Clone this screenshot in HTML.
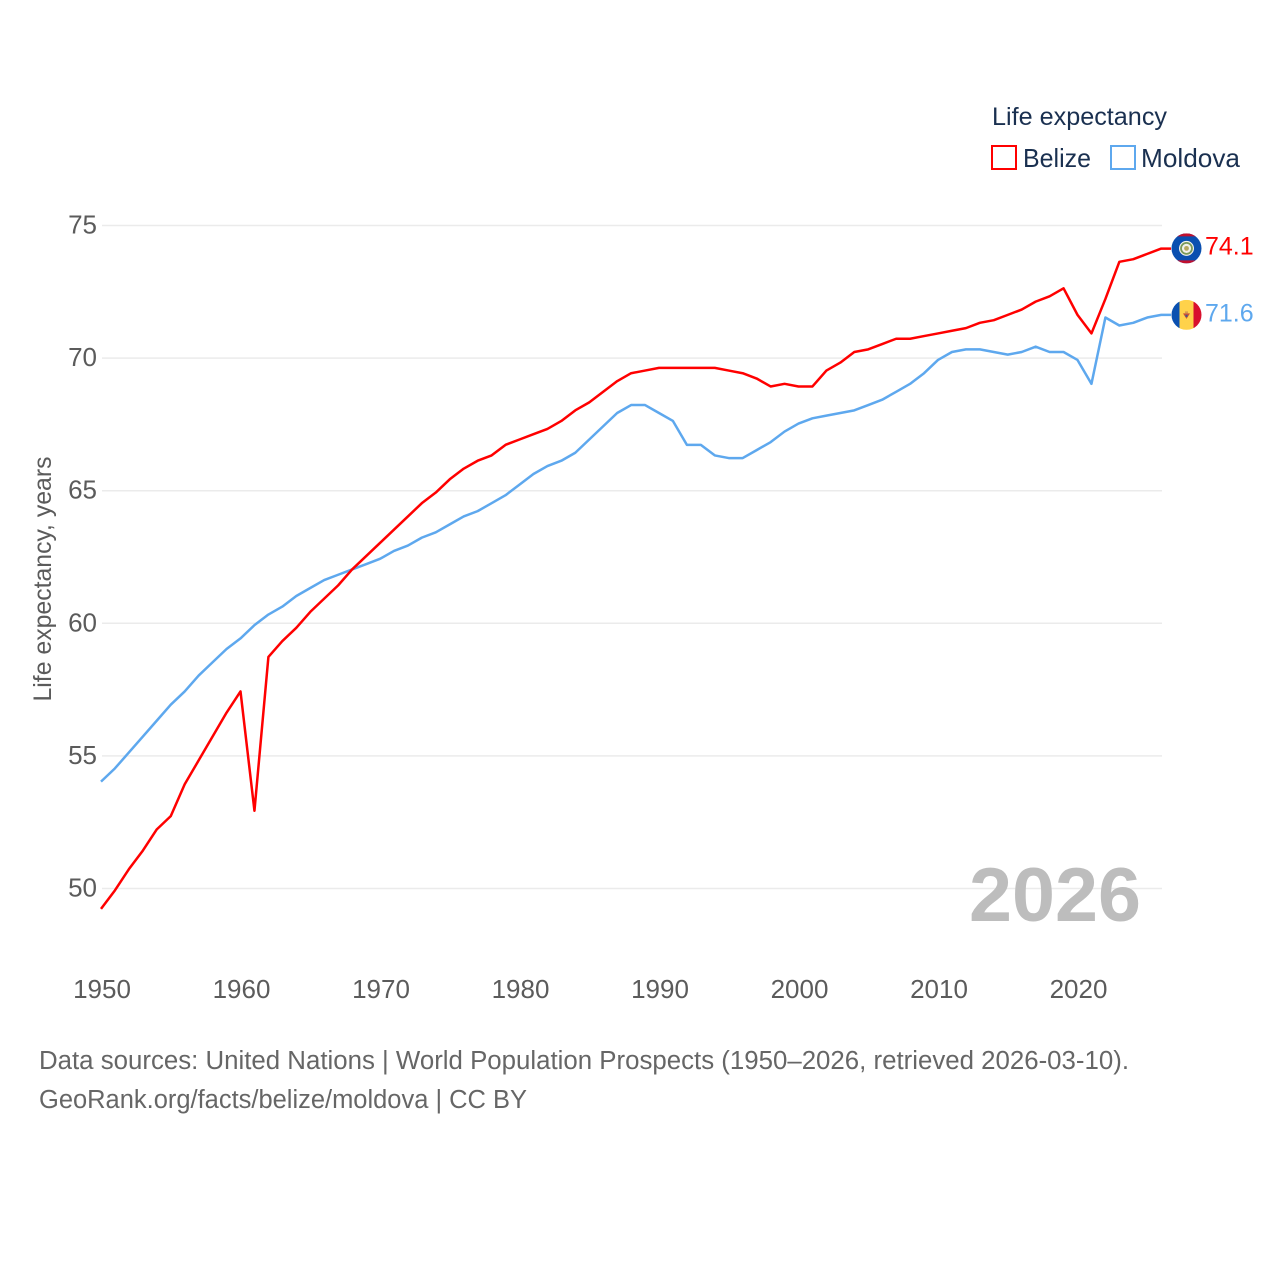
<!DOCTYPE html>
<html lang="en">
<head>
<meta charset="utf-8">
<title>Life expectancy: Belize and Moldova</title>
<style>
  html, body { margin: 0; padding: 0; background: #fff; }
  #chart { display: block; width: 1280px; height: 1280px; }
  text { font-family: "Liberation Sans", "DejaVu Sans", sans-serif; }
</style>
</head>
<body>
<svg id="chart" xmlns="http://www.w3.org/2000/svg" width="1280" height="1280" viewBox="0 0 1280 1280">
  <defs>
    <clipPath id="belize-clip"><circle cx="0" cy="0" r="15"></circle></clipPath>
    <clipPath id="moldova-clip"><circle cx="0" cy="0" r="15"></circle></clipPath>
  </defs>
  <rect x="0" y="0" width="1280" height="1280" fill="#ffffff"></rect>

  <g id="grid"></g>
  <g id="y-ticks"></g>
  <g id="x-ticks"></g>

  <text transform="translate(51 579) rotate(-90)" text-anchor="middle" font-size="25" fill="#5b5b5b" textLength="245" lengthAdjust="spacingAndGlyphs">Life expectancy, years</text>

  <text x="969" y="921" font-size="76" font-weight="700" fill="#bdbdbd" textLength="172" lengthAdjust="spacingAndGlyphs">2026</text>

  <g id="series" transform="translate(-1 -0.8)"></g>

  <g>
    <text x="992" y="125" font-size="25" fill="#1a3050" textLength="175" lengthAdjust="spacingAndGlyphs">Life expectancy</text>
    <rect x="992" y="146" width="24" height="23" fill="none" stroke="#ff0000" stroke-width="2"></rect>
    <text x="1023" y="167" font-size="26" fill="#1a3050" textLength="68" lengthAdjust="spacingAndGlyphs">Belize</text>
    <rect x="1111" y="146" width="24" height="23" fill="none" stroke="#5ea8ee" stroke-width="2"></rect>
    <text x="1141" y="167" font-size="26" fill="#1a3050" textLength="99" lengthAdjust="spacingAndGlyphs">Moldova</text>
  </g>

  <g id="flag-belize">
    <g clip-path="url(#belize-clip)">
      <rect x="-15" y="-15" width="30" height="30" fill="#0a4fb0"></rect>
      <rect x="-15" y="-15" width="30" height="3" fill="#c2102e"></rect>
      <rect x="-15" y="12" width="30" height="3" fill="#c2102e"></rect>
      <circle cx="0" cy="0" r="7.5" fill="#f2f2ec"></circle>
      <circle cx="0" cy="0" r="5.5" fill="none" stroke="#7a9a5a" stroke-width="1.8"></circle>
      <circle cx="0" cy="0" r="2.4" fill="#b8a860"></circle>
    </g>
  </g>
  <g id="flag-moldova">
    <g clip-path="url(#moldova-clip)">
      <rect x="-15" y="-15" width="8" height="30" fill="#0a50b0"></rect>
      <rect x="-7" y="-15" width="14" height="30" fill="#ffd24a"></rect>
      <rect x="7" y="-15" width="8" height="30" fill="#d8102e"></rect>
      <path d="M-3.5 -1.5 L3.5 -1.5 L0 4 Z" fill="#c8503a"></path>
      <rect x="-1.5" y="-3.5" width="3" height="2" fill="#d89a50"></rect>
      <rect x="-1" y="0" width="2" height="2" fill="#3a5a90"></rect>
    </g>
  </g>

  <g id="end-labels"></g>

  <text x="39" y="1069" font-size="25.5" fill="#666666" textLength="1090" lengthAdjust="spacingAndGlyphs">Data sources: United Nations | World Population Prospects (1950–2026, retrieved 2026-03-10).</text>
  <text x="39" y="1108" font-size="25.5" fill="#666666" textLength="488" lengthAdjust="spacingAndGlyphs">GeoRank.org/facts/belize/moldova | CC BY</text>
</svg>

<script>
const startYear = 1950;
const xTickLabels = [1950, 1960, 1970, 1980, 1990, 2000, 2010, 2020];
const yTickLabels = [50, 55, 60, 65, 70, 75];
const belizeValues = [
  49.2, 49.9, 50.7, 51.4, 52.2, 52.7, 53.9, 54.8, 55.7, 56.6,
  57.4, 52.9, 58.7, 59.3, 59.8, 60.4, 60.9, 61.4, 62.0, 62.5,
  63.0, 63.5, 64.0, 64.5, 64.9, 65.4, 65.8, 66.1, 66.3, 66.7,
  66.9, 67.1, 67.3, 67.6, 68.0, 68.3, 68.7, 69.1, 69.4, 69.5,
  69.6, 69.6, 69.6, 69.6, 69.6, 69.5, 69.4, 69.2, 68.9, 69.0,
  68.9, 68.9, 69.5, 69.8, 70.2, 70.3, 70.5, 70.7, 70.7, 70.8,
  70.9, 71.0, 71.1, 71.3, 71.4, 71.6, 71.8, 72.1, 72.3, 72.6,
  71.6, 70.9, 72.2, 73.6, 73.7, 73.9, 74.1
];
const moldovaValues = [
  54.0, 54.5, 55.1, 55.7, 56.3, 56.9, 57.4, 58.0, 58.5, 59.0,
  59.4, 59.9, 60.3, 60.6, 61.0, 61.3, 61.6, 61.8, 62.0, 62.2,
  62.4, 62.7, 62.9, 63.2, 63.4, 63.7, 64.0, 64.2, 64.5, 64.8,
  65.2, 65.6, 65.9, 66.1, 66.4, 66.9, 67.4, 67.9, 68.2, 68.2,
  67.9, 67.6, 66.7, 66.7, 66.3, 66.2, 66.2, 66.5, 66.8, 67.2,
  67.5, 67.7, 67.8, 67.9, 68.0, 68.2, 68.4, 68.7, 69.0, 69.4,
  69.9, 70.2, 70.3, 70.3, 70.2, 70.1, 70.2, 70.4, 70.2, 70.2,
  69.9, 69.0, 71.5, 71.2, 71.3, 71.5, 71.6
];

const SVG_NS = 'http://www.w3.org/2000/svg';
const BELIZE_COLOR = '#ff0000';
const MOLDOVA_COLOR = '#5ea8ee';
const plotLeft = 102;
const plotRight = 1162;

function xScale(year) {
  return 102 + (year - 1950) * 13.95;
}
function yScale(value) {
  return 888.5 - (value - 50) * 26.52;
}
function make(tag, attrs, parent) {
  const el = document.createElementNS(SVG_NS, tag);
  Object.keys(attrs).forEach(function (k) { el.setAttribute(k, attrs[k]); });
  parent.appendChild(el);
  return el;
}

const gridGroup = document.getElementById('grid');
const yGroup = document.getElementById('y-ticks');
yTickLabels.forEach(function (tick) {
  const y = yScale(tick);
  const line = make('line', { x1: plotLeft, x2: plotRight, y1: y, y2: y, stroke: '#ebebeb', 'stroke-width': 1.5 }, gridGroup);
  
  
  const label = make('text', { x: 97, y: y + 8, 'text-anchor': 'end', 'font-size': 26, fill: '#5b5b5b' }, yGroup);
  label.textContent = String(tick);
  
  
});

const xGroup = document.getElementById('x-ticks');
xTickLabels.forEach(function (tick) {
  const label = make('text', { x: xScale(tick), y: 998, 'text-anchor': 'middle', 'font-size': 26, fill: '#5b5b5b' }, xGroup);
  label.textContent = String(tick);
  
  
});

function pointsFor(values) {
  const pts = values.map(function (v, i) {
    return xScale(startYear + i).toFixed(2) + ',' + yScale(v).toFixed(2);
  });
  const lastValue = values[values.length - 1];
  pts.push('1172,' + yScale(lastValue).toFixed(2));
  return pts.join(' ');
}

const seriesGroup = document.getElementById('series');
const moldovaLine = make('polyline', { points: pointsFor(moldovaValues), fill: 'none', stroke: MOLDOVA_COLOR, 'stroke-width': 2.5, 'stroke-linejoin': 'round' }, seriesGroup);


const belizeLine = make('polyline', { points: pointsFor(belizeValues), fill: 'none', stroke: BELIZE_COLOR, 'stroke-width': 2.5, 'stroke-linejoin': 'round' }, seriesGroup);



const belizeLast = belizeValues[belizeValues.length - 1];
const moldovaLast = moldovaValues[moldovaValues.length - 1];
document.getElementById('flag-belize').setAttribute('transform', 'translate(1186.5 ' + (yScale(belizeLast) - 1) + ')');
document.getElementById('flag-moldova').setAttribute('transform', 'translate(1186.5 ' + (yScale(moldovaLast) - 0.8) + ')');

const endGroup = document.getElementById('end-labels');
const belizeEnd = make('text', { x: 1205, y: yScale(belizeLast) + 5, 'font-size': 25, fill: BELIZE_COLOR }, endGroup);
belizeEnd.textContent = belizeLast.toFixed(1);


const moldovaEnd = make('text', { x: 1205, y: yScale(moldovaLast) + 6, 'font-size': 25, fill: MOLDOVA_COLOR }, endGroup);
moldovaEnd.textContent = moldovaLast.toFixed(1);


</script>
</body>
</html>
